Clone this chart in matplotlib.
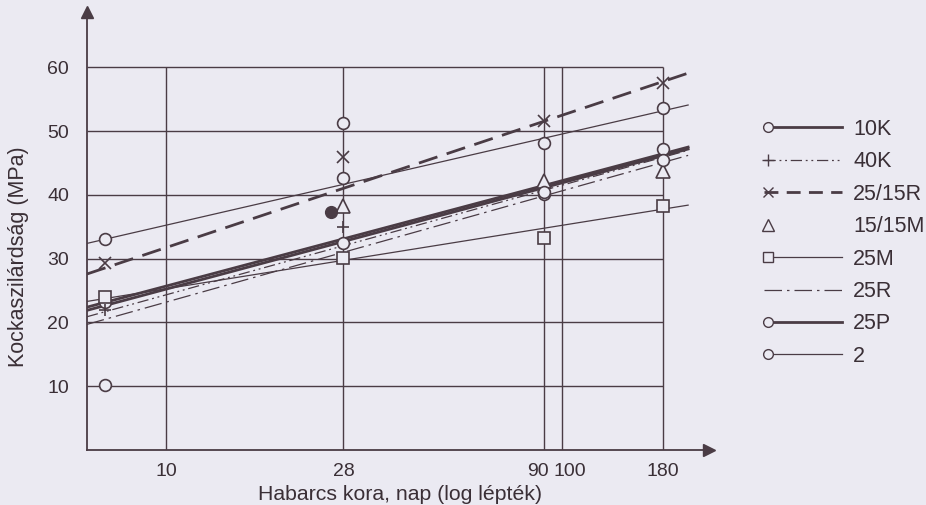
import numpy as np
import matplotlib
matplotlib.use("Agg")
import matplotlib.pyplot as plt
from matplotlib.legend_handler import HandlerLine2D
from matplotlib.lines import Line2D
import matplotlib.transforms as mtransforms

# ages of the measurements (days) and read-off strengths (MPa)
ages = [7, 28, 90, 180]
pts_10K = [23.2, 32.4, 40.1, 47.2]
pts_40K = [21.9, 35.0, 41.3, 45.3]
pts_25_15R = [29.3, 46.0, 51.6, 57.5]
pts_15_15M = [np.nan, 38.3, 42.2, 43.8]
pts_25M = [24.0, 30.1, 33.2, 38.2]
pts_25P = [10.2, 51.3, 40.5, 45.5]
pts_2 = [33.1, 42.6, 48.1, 53.7]
extra_age = [26]
extra_val = [37.3]

# regression lines (start / end values)
line_ages = [6.3, 208]
trend_10K = [22.4, 47.5]
trend_40K = [20.9, 47.0]
trend_25_15R = [27.6, 59.1]
trend_25M = [23.3, 38.4]
trend_25R = [19.7, 46.2]
trend_25P = [21.9, 47.2]
trend_2 = [32.4, 54.1]

xticks = [10, 28, 90, 100, 180]
yticks = [10, 20, 30, 40, 50, 60]
labels = ["10K", "40K", "25/15R", "15/15M", "25M", "25R", "25P", "2"]

BG = "#ebeaf2"
INK = "#4a3c45"
TXT = "#3a2f36"

plt.rcParams["font.family"] = ["Liberation Sans", "DejaVu Sans"]

fig = plt.figure(figsize=(9.26, 5.05), dpi=100, facecolor=BG)
ax = fig.add_axes([87 / 926, 55 / 505, (712 - 87) / 926, (450 - 10) / 505])
ax.set_facecolor(BG)
ax.set_xscale("log")
ax.set_xlim(6.3, 239)
ax.set_ylim(0, 69)

# grid frame (up to 60 MPa and 180 days)
ax.hlines(yticks, 6.3, 180, color=INK, lw=1.0, zorder=1)
ax.vlines(xticks, 0, 60, color=INK, lw=1.0, zorder=1)

for s in ["top", "right"]:
    ax.spines[s].set_visible(False)
for s in ["left", "bottom"]:
    ax.spines[s].set_color(INK)
    ax.spines[s].set_linewidth(1.3)
ax.plot([0.995], [0], marker=">", ms=9, color=INK, transform=ax.transAxes, clip_on=False)
ax.plot([0], [0.995], marker="^", ms=9, color=INK, transform=ax.transAxes, clip_on=False)

mk = dict(color=INK, mfc=BG, mec=INK, mew=1.2, ms=8.5, zorder=4)
thick = 2.0
thin = 0.9
ls_40K = (0, (9, 3, 1.5, 3, 1.5, 3))
ls_25R = (0, (14, 4, 2, 4))

# trend lines
ax.plot(line_ages, trend_10K, color=INK, lw=thick, zorder=3)
ax.plot(line_ages, trend_40K, color=INK, lw=thin, ls=ls_40K, zorder=3)
ax.plot(line_ages, trend_25_15R, color=INK, lw=2.0, ls=(0, (7, 3.5)), zorder=3)
ax.plot(line_ages, trend_25M, color=INK, lw=thin, zorder=3)
ax.plot(line_ages, trend_25R, color=INK, lw=thin, ls=ls_25R, zorder=3)
ax.plot(line_ages, trend_25P, color=INK, lw=thick, zorder=3)
ax.plot(line_ages, trend_2, color=INK, lw=thin, zorder=3)

# measured points
ax.plot(ages, pts_10K, ls="none", marker="o", **mk)
ax.plot(ages, pts_40K, ls="none", marker="+", **mk)
ax.plot(ages, pts_25_15R, ls="none", marker="x", **mk)
ax.plot(ages, pts_15_15M, ls="none", marker="^", **dict(mk, ms=9.5))
ax.plot(ages, pts_25M, ls="none", marker="s", **dict(mk, ms=8))
ax.plot(ages, pts_25P, ls="none", marker="o", **mk)
ax.plot(ages, pts_2, ls="none", marker="o", **mk)
ax.plot(extra_age, extra_val, ls="none", marker="o", color=INK, mfc=INK, mec=INK, ms=8.5, zorder=4)

ax.xaxis.set_minor_locator(matplotlib.ticker.NullLocator())
ax.set_xticks(xticks)
ax.set_xticklabels([str(t) for t in xticks])
ax.set_yticks(yticks)
ax.tick_params(axis="both", length=0, labelsize=14, colors=TXT)
ax.tick_params(axis="x", pad=9)
ax.tick_params(axis="y", pad=13)
# nudge the crowded 90 / 100 labels apart
shifts = {"90": -6, "100": 8}
for lab in ax.get_xticklabels():
    dx = shifts.get(lab.get_text(), 0)
    if dx:
        lab.set_transform(lab.get_transform() + mtransforms.ScaledTranslation(dx / 100, 0, fig.dpi_scale_trans))

fig.text(19 / 926, 1 - 257 / 505, "Kockaszilárdság (MPa)", rotation=90,
         ha="center", va="center", fontsize=15.5, color=TXT)
fig.text(400 / 926, 1 - 494 / 505, "Habarcs kora, nap (log lépték)",
         ha="center", va="center", fontsize=15.3, color=TXT)


class LeftMarkerHandler(HandlerLine2D):
    # marker sits at the left end of the sample line, like in the print
    def create_artists(self, legend, orig_handle, xdescent, ydescent,
                       width, height, fontsize, trans):
        y = (height - ydescent) / 2
        line = Line2D([-xdescent, -xdescent + width], [y, y])
        self.update_prop(line, orig_handle, legend)
        line.set_marker("None")
        mark = Line2D([-xdescent + 3], [y])
        self.update_prop(mark, orig_handle, legend)
        mark.set_linestyle("None")
        line.set_transform(trans)
        mark.set_transform(trans)
        return [line, mark]


handles = [
    Line2D([], [], color=INK, lw=thick, marker="o", mfc=BG, mec=INK, ms=7),
    Line2D([], [], color=INK, lw=thin, ls=ls_40K, marker="+", ms=9, mec=INK),
    Line2D([], [], color=INK, lw=2.0, ls=(0, (5, 3)), marker="x", ms=7, mec=INK),
    Line2D([], [], color=INK, ls="none", marker="^", mfc=BG, mec=INK, ms=8),
    Line2D([], [], color=INK, lw=thin, marker="s", mfc=BG, mec=INK, ms=6.5),
    Line2D([], [], color=INK, lw=thin, ls=ls_25R),
    Line2D([], [], color=INK, lw=thick, marker="o", mfc=BG, mec=INK, ms=7),
    Line2D([], [], color=INK, lw=thin, marker="o", mfc=BG, mec=INK, ms=7),
]
fig.legend(handles, labels, loc="upper left", bbox_to_anchor=(764 / 926, 1 - 119 / 505),
           frameon=False, fontsize=15.5, handlelength=3.6, handletextpad=0.55,
           labelspacing=0.53, borderpad=0, borderaxespad=0, labelcolor=TXT,
           handler_map={h: LeftMarkerHandler() for h in handles})

fig.savefig("out.png", dpi=100, facecolor=BG)
